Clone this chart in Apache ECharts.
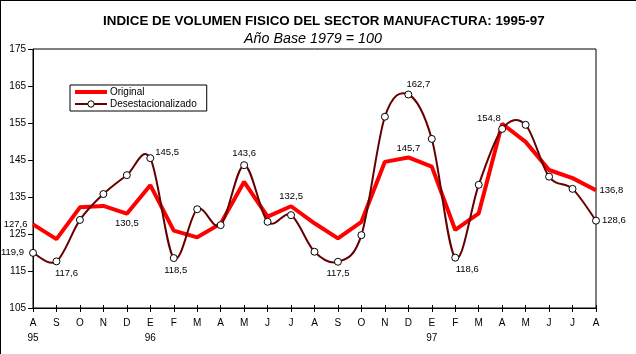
<!DOCTYPE html>
<html>
<head>
<meta charset="utf-8">
<script src="https://cdn.jsdelivr.net/npm/echarts@6/dist/echarts.min.js"></script>
<style>
html,body{margin:0;padding:0;background:#fff;}
#chart{width:636px;height:354px;}
</style>
</head>
<body>
<div id="chart"></div>
<script>
const titleText = 'INDICE DE VOLUMEN FISICO DEL SECTOR MANUFACTURA: 1995-97';
const subtitleText = 'Año Base 1979 = 100';
const months = ['A','S','O','N','D','E','F','M','A','M','J','J','A','S','O','N','D','E','F','M','A','M','J','J','A'];
const years  = ['95','','','','','96','','','','','','','','','','','','97','','','','','','',''];
const original = [127.6,123.6,132.2,132.6,130.5,138.2,125.9,124.1,127.8,139.1,129.7,132.5,127.9,123.8,128.3,144.5,145.7,143.2,126.1,130.6,154.8,149.9,142.3,140.1,136.8];
const desest   = [119.9,117.6,128.8,135.8,140.9,145.5,118.5,131.7,127.4,143.6,128.3,130.1,120.2,117.5,124.7,156.7,162.7,150.7,118.6,138.3,153.4,154.5,140.5,137.2,128.6];
const yTicks = [105,115,125,135,145,155,165,175];

// label placement (style only)
const origLabels = {
  0:{position:'left',distance:5},
  4:{position:'bottom',distance:4},
  11:{position:'top',distance:4},
  16:{position:'top',distance:4},
  20:{position:'left',distance:1,offset:[0,-5]},
  24:{position:'right',distance:3}
};
const desLabels = {
  0:{position:'left',distance:5},
  1:{position:'bottom',distance:3,offset:[10,0]},
  5:{position:'right',distance:1,offset:[0,-6]},
  6:{position:'bottom',distance:3,offset:[2,0]},
  9:{position:'top',distance:3},
  13:{position:'bottom',distance:3},
  16:{position:'top',distance:1,offset:[10,0]},
  18:{position:'bottom',distance:3,offset:[12,0]},
  24:{position:'right',distance:2}
};
const fmt = v => v.toFixed(1).replace('.', ',');
const labelBase = {show:true,color:'#000',opacity:1,fontSize:9.5,fontFamily:'Liberation Sans',formatter:p=>fmt(Array.isArray(p.value)?p.value[1]:p.value)};

function buildSeries(arr, labels){
  return arr.map((v,i)=>{
    const item = {value:v};
    if(labels[i]) item.label = Object.assign({}, labelBase, labels[i]);
    return item;
  });
}

// Catmull-Rom style smoothing drawn through the axis scales (api.coord)
function renderCurve(params, api){
  if(params.dataIndex !== 0) return null;
  const pts = desest.map((v,i)=>api.coord([i, v]));
  const n = pts.length;
  const children = [];
  for(let i=0;i<n-1;i++){
    const p0 = pts[Math.max(i-1,0)], p1 = pts[i], p2 = pts[i+1], p3 = pts[Math.min(i+2,n-1)];
    children.push({
      type:'bezierCurve',
      shape:{
        x1:p1[0], y1:p1[1], x2:p2[0], y2:p2[1],
        cpx1:p1[0]+(p2[0]-p0[0])/6, cpy1:p1[1]+(p2[1]-p0[1])/6,
        cpx2:p2[0]-(p3[0]-p1[0])/6, cpy2:p2[1]-(p3[1]-p1[1])/6
      },
      style:{stroke:'#660000',lineWidth:2,fill:null}
    });
  }
  return {type:'group',children:children};
}

const chart = echarts.init(document.getElementById('chart'), null, {renderer:'canvas'});
chart.setOption({
  animation:false,
  backgroundColor:'#fff',
  textStyle:{fontFamily:'Liberation Sans'},
  title:[
    {text:titleText,left:98,top:10,textStyle:{fontSize:13.4,fontWeight:'bold',color:'#000',fontFamily:'Liberation Sans'}},
    {text:subtitleText,left:239,top:27,textStyle:{fontSize:14.3,fontWeight:'normal',fontStyle:'italic',color:'#000',fontFamily:'Liberation Sans'}}
  ],
  graphic:[
    {type:'line',shape:{x1:0.5,y1:0,x2:0.5,y2:354},style:{stroke:'#000',lineWidth:1}},
    {type:'line',shape:{x1:0,y1:0.5,x2:636,y2:0.5},style:{stroke:'#000',lineWidth:1}}
  ],
  legend:{
    left:70, top:85, orient:'vertical',
    itemWidth:32, itemHeight:8, itemGap:2,
    padding:[2,10,2,3],
    borderColor:'#000', borderWidth:1,
    textStyle:{fontSize:10,lineHeight:10,color:'#000',fontFamily:'Liberation Sans',padding:[0,0,0,-2]},
    data:[
      {name:'Original',itemStyle:{opacity:0},lineStyle:{color:'#ff0000',width:4,opacity:1}},
      {name:'Desestacionalizado',lineStyle:{color:'#660000',width:2,opacity:1},itemStyle:{color:'#fff',borderColor:'#000',borderWidth:1}}
    ]
  },
  grid:{left:33,right:40,top:49,bottom:46,show:true,borderColor:'#000',borderWidth:1,backgroundColor:'#fff'},
  xAxis:[{
    type:'category', data:months, boundaryGap:false,
    axisLine:{lineStyle:{color:'#000',width:1}},
    axisTick:{show:true,length:4,interval:0,lineStyle:{color:'#000'}},
    axisLabel:{interval:0,color:'#000',fontSize:10,lineHeight:15,margin:8,
      formatter:(v,i)=>v+'\n'+years[i]}
  },{
    type:'category', data:months, boundaryGap:false, position:'bottom',
    axisLine:{show:false},
    axisTick:{show:true,inside:true,length:3,interval:0,lineStyle:{color:'#000'}},
    axisLabel:{show:false}
  }],
  yAxis:{
    type:'value', min:yTicks[0], max:yTicks[yTicks.length-1], interval:10,
    splitLine:{show:false},
    axisLine:{show:true,lineStyle:{color:'#000'}},
    axisTick:{show:true,length:5,lineStyle:{color:'#000'}},
    axisLabel:{color:'#000',fontSize:10,margin:7}
  },
  series:[
    {name:'Original',type:'line',data:buildSeries(original,origLabels),
     symbol:'circle',symbolSize:1,showSymbol:true,showAllSymbol:true,
     lineStyle:{color:'#ff0000',width:4},itemStyle:{color:'#ff0000',opacity:0},
     z:2},
    {name:'curve',type:'custom',data:desest.map((v,i)=>[i,v]),
     renderItem:renderCurve,silent:true,z:3,
     encode:{x:0,y:1}},
    {name:'Desestacionalizado',type:'line',data:buildSeries(desest,desLabels),
     symbol:'circle',symbolSize:7,showAllSymbol:true,
     lineStyle:{color:'#660000',width:2,opacity:0},
     itemStyle:{color:'#fff',borderColor:'#000',borderWidth:1},
     z:4}
  ]
});
</script>
</body>
</html>
